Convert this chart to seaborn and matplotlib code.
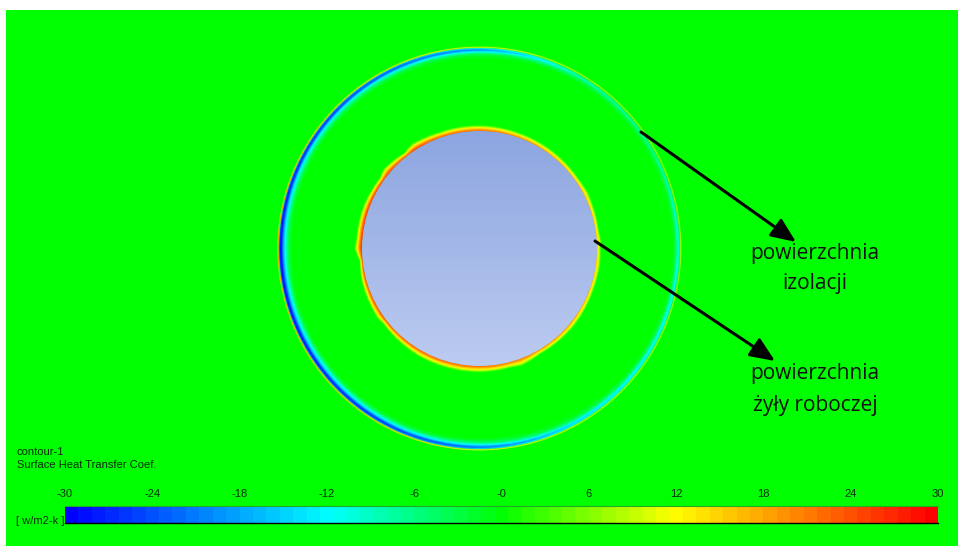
import numpy as np
import seaborn as sns
import matplotlib
matplotlib.use('Agg')
import matplotlib.pyplot as plt
from matplotlib.colors import LinearSegmentedColormap
from matplotlib.patches import Circle

W, H = 958, 546

# colour scale
tick_values = [-30, -24, -18, -12, -6, 0, 6, 12, 18, 24, 30]
tick_labels = ['-30', '-24', '-18', '-12', '-6', '-0', '6', '12', '18', '24', '30']
scale_nodes = [(0.0, '#0000ff'), (0.3, '#00ffff'), (0.5, '#00ff00'), (0.7, '#ffff00'), (1.0, '#ff0000')]
n_levels = 65

# outer surface, values read at depth (px inward) and angle (deg, ccw from +x)
outer_depth = [-1.2, -0.2, 0.8, 2.5, 4.5, 6.5, 9, 12, 15]
outer_angle = [0, 30, 60, 90, 120, 150, 180, 210, 240, 270, 300, 330]
outer_htc = [
    [0, 10, -4, -12, -5, -1, 0, 0, 0],
    [0, 9, -2, -7, -3, -1, 0, 0, 0],
    [0, 11, -4, -9, -4, -2, 0, 0, 0],
    [0, 14, -12, -20, -11, -4, -1, 0, 0],
    [0, 18, -18, -24, -13, -6, -2, 0, 0],
    [0, 22, -22, -27, -15, -8, -3, 0, 0],
    [0, 26, -24, -30, -20, -12, -5, -1, 0],
    [0, 24, -22, -29, -18, -11, -4, 0, 0],
    [0, 22, -20, -27, -16, -9, -3, 0, 0],
    [0, 16, -16, -22, -13, -6, -2, 0, 0],
    [0, 13, -8, -15, -8, -3, -1, 0, 0],
    [0, 11, -6, -13, -6, -2, 0, 0, 0],
]

# conductor surface: band width (px) and peak value round the edge
inner_angle = [0, 3, 8, 20, 28, 35, 50, 70, 90, 110, 123, 128, 140, 145, 160, 175, 180, 186, 195, 214, 218, 240, 270, 285, 290, 300, 320, 340, 352]
inner_width = [4.5, 5.5, 4, 4.5, 5.5, 4.5, 5, 5.5, 6.5, 6.5, 8, 5, 8, 5.5, 7, 7, 8.5, 3.5, 5.5, 7, 5.5, 7, 7, 6.5, 8, 5, 5.5, 4.5, 5]
inner_peak = [17, 17, 17, 18, 18, 18, 19, 21, 23, 24, 26, 25, 26, 26, 27, 27, 27, 26, 25, 25, 25, 24, 23, 22, 22, 21, 20, 18, 17]
band_pos = [0, 0.25, 0.6, 0.85, 1]
band_val = [1, 0.85, 0.5, 0.2, 0]

# conductor fill, top to bottom
disc_colors = ['#8ca5e0', '#bccbf0']

cx, cy = 479.5, 248.5
r_out, r_in = 201, 117.5

sns.set_theme(style='white')
plt.rcParams['font.family'] = ['Liberation Sans', 'DejaVu Sans']
cmap = LinearSegmentedColormap.from_list('fluent', scale_nodes, N=n_levels)

fig = plt.figure(figsize=(W / 100, H / 100), dpi=100)
fig.patch.set_facecolor('white')

# contour field, resolved on a grid 3x finer than the picture
left, top = 6, 10
ss = 3
yy, xx = np.mgrid[top * ss:H * ss, left * ss:W * ss]
yy = (yy + 0.5) / ss
xx = (xx + 0.5) / ss
dx, dy = xx - cx, cy - yy
rad = np.hypot(dx, dy)
ang = np.degrees(np.arctan2(dy, dx)) % 360
field = np.zeros(rad.shape)

cols = np.array([np.interp(ang, outer_angle, np.array(outer_htc)[:, j], period=360)
                 for j in range(len(outer_depth))])
depth = r_out - rad
pos = np.clip(np.searchsorted(outer_depth, depth) - 1, 0, len(outer_depth) - 2)
d0 = np.array(outer_depth)[pos]
d1 = np.array(outer_depth)[pos + 1]
rows, columns = np.indices(rad.shape)
t = np.clip((depth - d0) / (d1 - d0), 0, 1)
ring = cols[pos, rows, columns] * (1 - t) + cols[pos + 1, rows, columns] * t
field = np.where((depth > -1.2) & (depth < 15), ring, field)

width = np.interp(ang, inner_angle, inner_width, period=360)
peak = np.interp(ang, inner_angle, inner_peak, period=360)
u = (rad - r_in + 0.5) / width
band = peak * np.interp(u, band_pos, band_val)
field = np.where((u >= 0) & (u <= 1), band, field)

# overlay in picture pixels
over = fig.add_axes([0, 0, 1, 1])
over.axis('off')
over.imshow(field, cmap=cmap, vmin=-30, vmax=30, aspect='auto', extent=[left, W, H, top],
            interpolation='hanning', interpolation_stage='rgba')

grad = np.linspace(0, 1, 256)[:, None]
disc_cmap = LinearSegmentedColormap.from_list('disc', disc_colors)
im = over.imshow(grad, cmap=disc_cmap, aspect='auto',
                 extent=[cx - r_in, cx + r_in, cy + r_in, cy - r_in])
im.set_clip_path(Circle((cx, cy), r_in, transform=over.transData))
over.set_xlim(0, W)
over.set_ylim(H, 0)

for start, end in [((641, 132), (796, 242)), ((595, 241), (775, 361))]:
    over.annotate('', xy=end, xytext=start,
                  arrowprops=dict(arrowstyle='-|>,head_length=0.75,head_width=0.32', color='black',
                                  lw=2.2, shrinkA=0, shrinkB=0, mutation_scale=20))

big = dict(family='Open Sans', fontsize=15, color='#111111', ha='center', va='center')
over.text(815, 253, 'powierzchnia', **big)
over.text(815, 283, 'izolacji', **big)
over.text(815, 374, 'powierzchnia', **big)
over.text(815, 405, 'żyły roboczej', **big)

small = dict(fontsize=8, color='#0a2a0a', va='center')
over.text(17, 452, 'contour-1', **small)
over.text(17, 464.5, 'Surface Heat Transfer Coef.', **small)
over.text(16, 521, '[ w/m2-k ]', **small)

# colour bar
cax = fig.add_axes([65 / W, 1 - 522.5 / H, (938 - 65) / W, 16.5 / H])
levels = (np.arange(n_levels) + 0.5) / n_levels * 60 - 30
sns.heatmap(levels[None, :], ax=cax, cmap=cmap, vmin=-30, vmax=30, cbar=False, yticklabels=False)
cax.xaxis.tick_top()
cax.set_xticks([(v + 30) / 60 * n_levels for v in tick_values])
cax.set_xticklabels(tick_labels, rotation=0, fontsize=8, color='#0a2a0a')
cax.tick_params(axis='x', length=0, pad=5)
cax.spines['bottom'].set_visible(True)
cax.spines['bottom'].set_color('black')
cax.spines['bottom'].set_linewidth(1)
cax.spines['top'].set_visible(True)
cax.spines['top'].set_color('#22aa22')
cax.spines['top'].set_linewidth(0.8)

fig.savefig('out.png', dpi=100)
